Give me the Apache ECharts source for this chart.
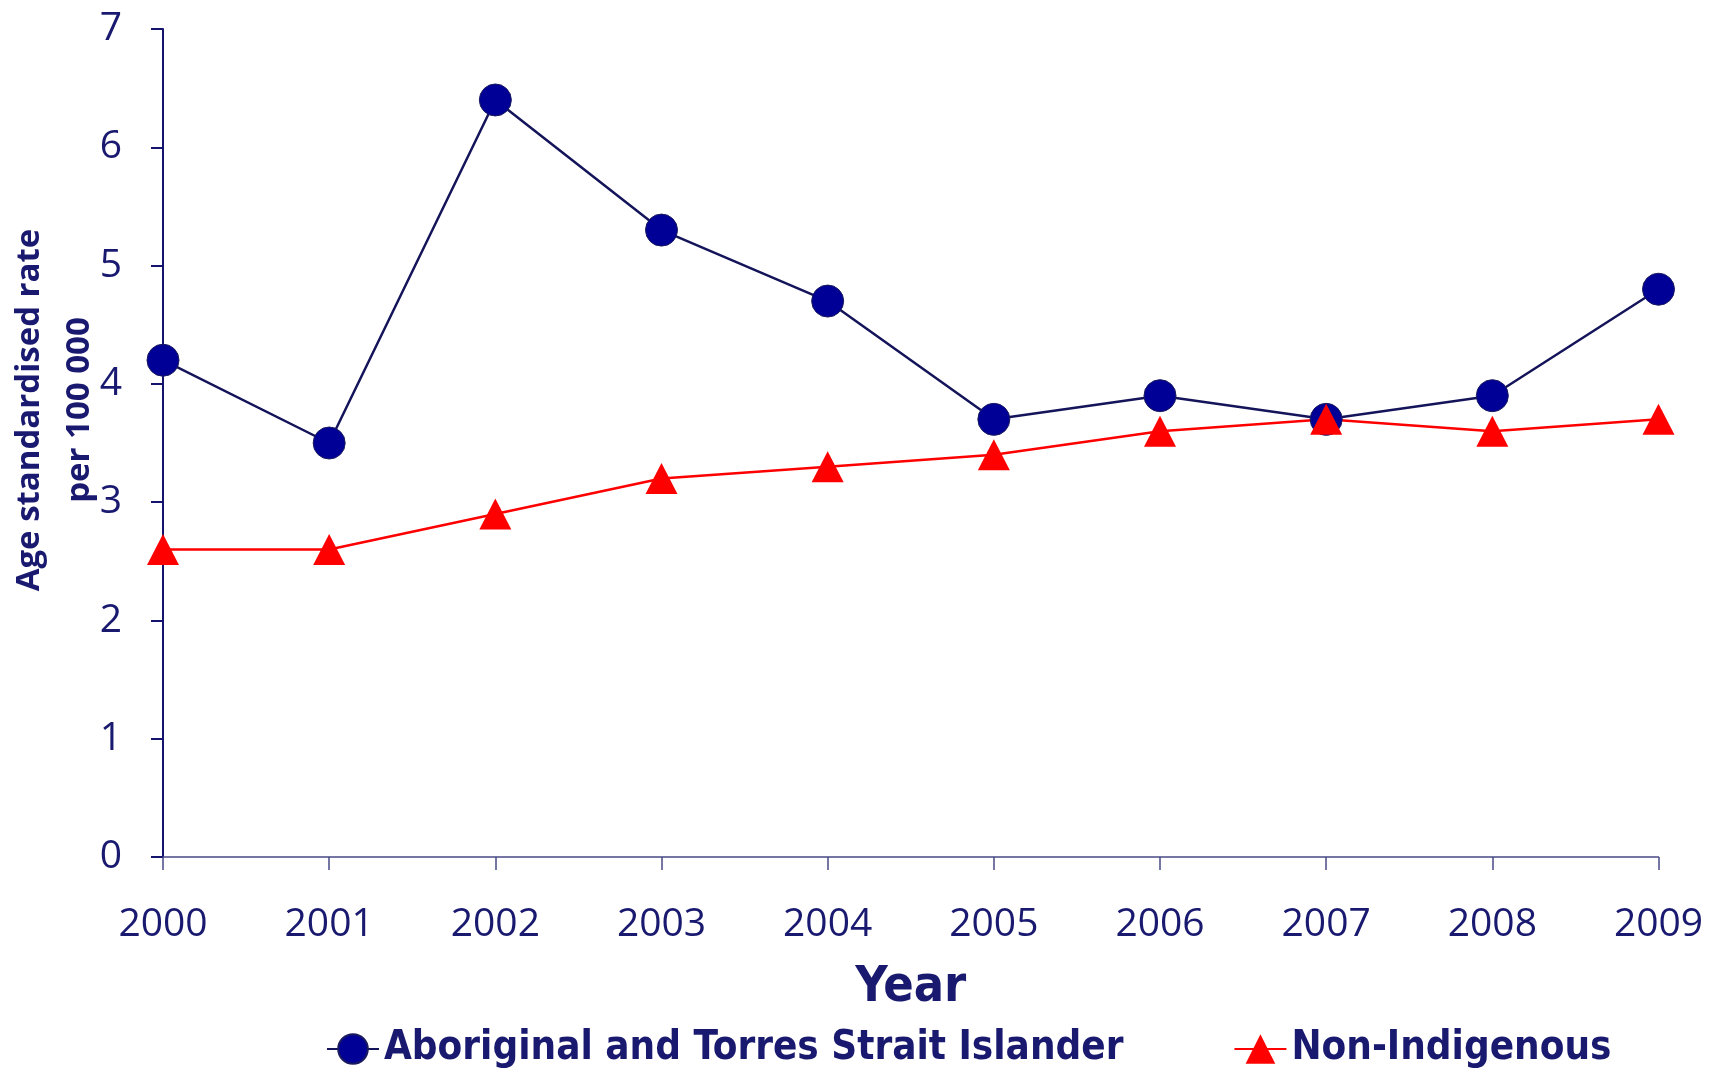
<!DOCTYPE html>
<html>
<head>
<meta charset="utf-8">
<script src="https://cdn.jsdelivr.net/npm/echarts@6/dist/echarts.min.js"></script>
<style>
html,body{margin:0;padding:0;background:#fff;}
#chart{width:1719px;height:1069px;}
</style>
</head>
<body>
<div id="chart"></div>
<script>
const years = ['2000','2001','2002','2003','2004','2005','2006','2007','2008','2009'];
const aboriginal = [4.2, 3.5, 6.4, 5.3, 4.7, 3.7, 3.9, 3.7, 3.9, 4.8];
const nonIndigenous = [2.6, 2.6, 2.9, 3.2, 3.3, 3.4, 3.6, 3.7, 3.6, 3.7];
const yTicks = [0, 1, 2, 3, 4, 5, 6, 7];
const seriesNames = ['Aboriginal and Torres Strait Islander', 'Non-Indigenous'];

const navy = '#191970';
const condensed = '"DejaVu Sans Condensed", "DejaVu Sans", sans-serif';
const chart = echarts.init(document.getElementById('chart'), null, {renderer: 'canvas'});
chart.setOption({
  backgroundColor: '#ffffff',
  animation: false,
  grid: {left: 163, right: 60.5, top: 29, bottom: 212, containLabel: false, outerBoundsMode: 'none'},
  legend: {
    left: 321, top: 1024,
    itemWidth: 52, itemHeight: 37, itemGap: 110,
    textStyle: {fontFamily: condensed, fontWeight: 'bold', fontSize: 40, color: navy},
    data: seriesNames
  },
  xAxis: {
    type: 'category',
    data: years,
    boundaryGap: false,
    name: 'Year',
    nameLocation: 'middle',
    nameGap: 106,
    nameMoveOverlap: false,
    nameTextStyle: {fontFamily: condensed, fontWeight: 'bold', fontSize: 50, color: navy},
    axisLine: {lineStyle: {color: '#4a4a88', width: 1.5}},
    axisTick: {alignWithLabel: true, length: 13, lineStyle: {color: '#4a4a88', width: 1.5}},
    axisLabel: {margin: 48, fontFamily: 'Open Sans', fontSize: 39, color: navy}
  },
  yAxis: {
    type: 'value',
    min: yTicks[0], max: yTicks[yTicks.length - 1], interval: 1,
    name: 'Age standardised rate\nper 100 000',
    nameLocation: 'middle',
    nameRotate: 90,
    nameGap: 58,
    nameMoveOverlap: false,
    nameTextStyle: {fontFamily: 'Open Sans', fontWeight: 'bold', fontSize: 33, color: navy, lineHeight: 50, padding: [0,0,0,66]},
    axisLine: {show: true, lineStyle: {color: '#14146e', width: 2}},
    axisTick: {show: true, length: 12, lineStyle: {color: '#14146e', width: 2}},
    splitLine: {show: false},
    axisLabel: {margin: 41, fontFamily: 'Open Sans', fontSize: 39, color: navy}
  },
  series: [
    {
      name: seriesNames[0], type: 'line', data: aboriginal,
      symbol: 'circle', symbolSize: 32,
      lineStyle: {color: '#14145a', width: 2.5},
      itemStyle: {color: '#000096', borderColor: '#1a1a5e', borderWidth: 1}
    },
    {
      name: seriesNames[1], type: 'line', data: nonIndigenous,
      symbol: 'triangle', symbolSize: [32, 31],
      lineStyle: {color: '#ff0000', width: 2.5},
      itemStyle: {color: '#ff0000'}
    }
  ]
});
</script>
</body>
</html>
